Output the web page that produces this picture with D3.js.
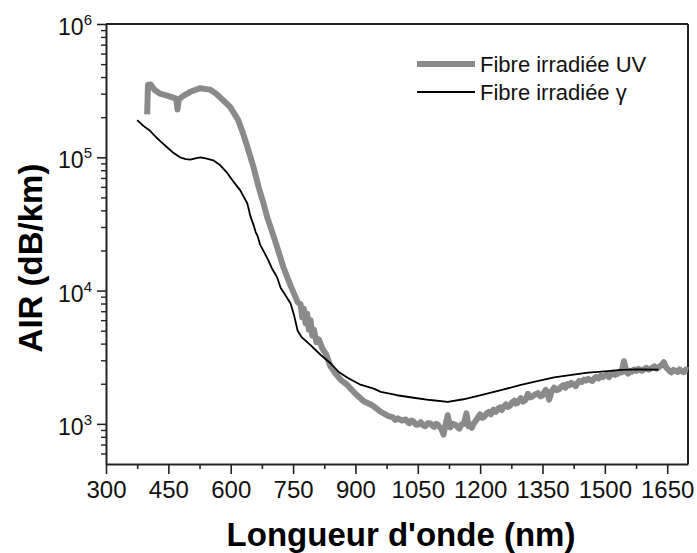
<!DOCTYPE html>
<html>
<head>
<meta charset="utf-8">
<script src="https://cdn.jsdelivr.net/npm/d3@7"></script>
<style>
  html, body { margin: 0; padding: 0; background: #fff; }
  svg { display: block; font-family: "Liberation Sans", Arial, Helvetica, sans-serif; }
</style>
</head>
<body>
<svg id="chart" width="697" height="553"></svg>
<script>
// ---- Data ----
const seriesNames = ["Fibre irradiée UV", "Fibre irradiée γ"];
const xTickValues = [300, 450, 600, 750, 900, 1050, 1200, 1350, 1500, 1650];
const yTickValues = [1e3, 1e4, 1e5, 1e6];
const yTickExponents = ["3", "4", "5", "6"];

// Fibre irradiée UV : [wavelength nm, AIR dB/km]
const uvData = [
  [399, 210000], [401, 350000], [407, 352000], [418, 318000], [430, 300000], [443, 293000],
  [458, 283000], [469, 276000], [472, 228000], [475, 272000], [487, 290000], [503, 310000],
  [527, 330000], [550, 322000], [565, 300000], [585, 262000], [599, 238000], [618, 190000],
  [630, 150000], [640, 120000], [655, 84000], [667, 60000], [679, 45000], [688, 35400],
  [708, 23000], [727, 14900], [744, 10900], [761, 8200], [768, 7900], [772, 6300],
  [776, 7300], [780, 5700], [784, 6700], [788, 5100], [792, 6000], [796, 4600],
  [800, 5100], [806, 4100], [812, 4300], [820, 3700], [830, 3300], [840, 2700],
  [852, 2380], [864, 2150], [881, 1950], [900, 1680], [920, 1480], [940, 1380],
  [961, 1230], [970, 1190], [978, 1150], [990, 1120], [996, 1070], [1002, 1100], [1012, 1060],
  [1021, 1080], [1026, 1030], [1030, 1010], [1035, 1060], [1040, 1040], [1045, 990], [1050, 985],
  [1057, 1030], [1062, 980], [1068, 960], [1074, 1010], [1081, 1005], [1086, 960], [1090, 950],
  [1094, 1000], [1098, 990], [1102, 950], [1106, 930], [1112, 830], [1116, 960],
  [1122, 1160], [1128, 940], [1134, 1000], [1141, 985], [1146, 940], [1150, 920], [1155, 990],
  [1161, 1000], [1167, 1200], [1172, 960], [1176, 990], [1180, 935], [1185, 1010], [1190, 1060],
  [1195, 1120], [1200, 1180], [1205, 1110], [1210, 1130], [1216, 1200], [1221, 1230], [1226, 1180],
  [1232, 1280], [1238, 1230], [1243, 1300], [1248, 1330], [1252, 1270], [1257, 1350], [1262, 1400],
  [1267, 1340], [1272, 1370], [1277, 1450], [1282, 1490], [1286, 1420], [1290, 1440], [1294, 1510],
  [1298, 1560], [1303, 1470], [1308, 1500], [1312, 1590], [1315, 1680], [1320, 1580], [1325, 1600],
  [1332, 1660], [1339, 1700], [1345, 1610], [1350, 1640], [1354, 1730], [1358, 1800], [1362, 1700],
  [1366, 1520], [1372, 1760], [1378, 1870], [1384, 1790], [1390, 1820], [1395, 1900],
  [1400, 1950], [1405, 1870], [1410, 1990], [1415, 1950], [1419, 2030], [1425, 1980], [1430, 1920],
  [1434, 2020], [1438, 2100], [1444, 2060], [1450, 2150], [1455, 2110],
  [1460, 2180], [1465, 2130], [1470, 2100], [1475, 2200], [1479, 2250], [1485, 2190], [1490, 2300],
  [1495, 2240], [1499, 2290], [1505, 2340], [1510, 2240], [1515, 2350],
  [1520, 2420], [1525, 2330], [1530, 2370], [1535, 2460], [1540, 2430], [1546, 2950], [1552, 2450],
  [1556, 2380], [1560, 2500], [1565, 2460],
  [1570, 2560], [1576, 2500], [1581, 2590], [1586, 2530], [1590, 2500], [1595, 2580], [1600, 2630],
  [1605, 2550], [1610, 2590], [1615, 2650], [1619, 2700],
  [1624, 2600], [1628, 2640], [1632, 2700], [1636, 2750], [1642, 2900], [1646, 2700], [1650, 2600],
  [1655, 2500], [1660, 2430], [1665, 2540], [1670, 2500], [1675, 2450],
  [1680, 2560], [1685, 2480], [1690, 2440], [1695, 2560], [1700, 2520]
];

// Fibre irradiée γ : [wavelength nm, AIR dB/km]
const gammaData = [
  [375, 190000], [390, 172000], [406, 158000], [420, 142000], [433, 130000], [447, 119000],
  [462, 108000], [478, 100000], [492, 97000], [503, 96000], [515, 98000], [527, 100000],
  [540, 98000], [558, 95000], [575, 87000], [592, 76000], [606, 66000], [623, 56500],
  [640, 45000], [647, 36500], [655, 31000], [660, 27500], [665, 25500], [671, 22000],
  [680, 19500], [690, 17000], [700, 14500], [712, 12500], [720, 10500], [732, 9200],
  [744, 8000], [752, 6600], [761, 5000], [770, 4500], [792, 3900], [816, 3300],
  [840, 2850], [860, 2450], [881, 2220], [910, 1980], [944, 1840], [961, 1740],
  [1000, 1640], [1040, 1570], [1080, 1510], [1122, 1460], [1160, 1530], [1202, 1640],
  [1250, 1790], [1298, 1960], [1340, 2100], [1378, 2230], [1420, 2330], [1460, 2420],
  [1500, 2480], [1540, 2540], [1580, 2560], [1629, 2550]
];

// ---- Layout ----
const svg = d3.select("#chart");
const mLeft = 106, mRight = 688, mTop = 24, mBottom = 464;
const fontFam = '"Liberation Sans", Arial, Helvetica, sans-serif';

const x = d3.scaleLinear().domain([300, 1700]).range([mLeft, mRight]);
const y = d3.scaleLog().domain([500, 1e6]).range([mBottom, mTop]);

// minor ticks
const xMinor = d3.range(375, 1700, 150);
const yMinor = [];
[100, 1000, 10000, 100000].forEach(d => {
  for (let k = 2; k <= 9; k++) { const v = d * k; if (v > 500 && v < 1e6) yMinor.push(v); }
});

// frame (top + right)
svg.append("line").attr("x1", mLeft).attr("x2", mRight).attr("y1", mTop).attr("y2", mTop)
  .attr("stroke", "#222").attr("stroke-width", 2);
svg.append("line").attr("x1", mRight).attr("x2", mRight).attr("y1", mTop).attr("y2", mBottom)
  .attr("stroke", "#222").attr("stroke-width", 2);

// X axis
const gx = svg.append("g").attr("transform", `translate(0,${mBottom})`)
  .call(d3.axisBottom(x).tickValues(xTickValues).tickFormat(d3.format("d"))
    .tickSize(10).tickSizeOuter(0).tickPadding(12));
gx.select(".domain").attr("stroke", "#222").attr("stroke-width", 2);
gx.selectAll(".tick line").attr("stroke", "#222").attr("stroke-width", 1.6);
gx.selectAll(".tick text").attr("font-size", 24).attr("font-family", fontFam).attr("fill", "#111")
  .attr("dy", null).attr("y", 34);
const gxm = svg.append("g").attr("transform", `translate(0,${mBottom})`)
  .call(d3.axisBottom(x).tickValues(xMinor).tickSize(5).tickFormat(""));
gxm.select(".domain").remove();
gxm.selectAll(".tick line").attr("stroke", "#222").attr("stroke-width", 1.6);

// Y axis
const gy = svg.append("g").attr("transform", `translate(${mLeft},0)`)
  .call(d3.axisLeft(y).tickValues(yTickValues).tickSize(9).tickSizeOuter(0).tickFormat(""));
gy.select(".domain").attr("stroke", "#222").attr("stroke-width", 2);
gy.selectAll(".tick line").attr("stroke", "#222").attr("stroke-width", 1.6);
const gym = svg.append("g").attr("transform", `translate(${mLeft},0)`)
  .call(d3.axisLeft(y).tickValues(yMinor).tickSize(5).tickFormat(""));
gym.select(".domain").remove();
gym.selectAll(".tick line").attr("stroke", "#222").attr("stroke-width", 1.4);

// Y tick labels with superscript
yTickValues.forEach((v, i) => {
  const t = svg.append("text").attr("x", 92).attr("y", y(v) + 11)
    .attr("text-anchor", "end").attr("font-family", fontFam).attr("fill", "#111");
  t.append("tspan").attr("font-size", 23).text("10");
  t.append("tspan").attr("font-size", 15).attr("dy", -10).text(yTickExponents[i]);
});

// Axis titles
svg.append("text").attr("x", 401).attr("y", 546).attr("text-anchor", "middle")
  .attr("font-family", fontFam).attr("font-weight", "bold").attr("font-size", 33).attr("fill", "#000")
  .text("Longueur d'onde (nm)");
svg.append("text").attr("transform", "translate(42,258) rotate(-90)").attr("text-anchor", "middle")
  .attr("font-family", fontFam).attr("font-weight", "bold").attr("font-size", 33).attr("fill", "#000")
  .text("AIR (dB/km)");

// Lines
const line = d3.line().x(d => x(d[0])).y(d => y(d[1]));
svg.append("path").datum(uvData).attr("d", line).attr("fill", "none")
  .attr("stroke", "#8a8a8a").attr("stroke-width", 6).attr("stroke-linejoin", "round");
svg.append("path").datum(gammaData).attr("d", line).attr("fill", "none")
  .attr("stroke", "#000").attr("stroke-width", 1.8).attr("stroke-linejoin", "round");

// Legend
const leg = [
  { name: seriesNames[0], color: "#8a8a8a", w: 6, y: 72 },
  { name: seriesNames[1], color: "#000", w: 1.8, y: 100 }
];
leg.forEach(l => {
  svg.append("line").attr("x1", 417).attr("x2", 475).attr("y1", l.y - 8).attr("y2", l.y - 8)
    .attr("stroke", l.color).attr("stroke-width", l.w);
  svg.append("text").attr("x", 480).attr("y", l.y).attr("font-family", fontFam)
    .attr("font-size", 22).attr("fill", "#111").text(l.name);
});
</script>
</body>
</html>
